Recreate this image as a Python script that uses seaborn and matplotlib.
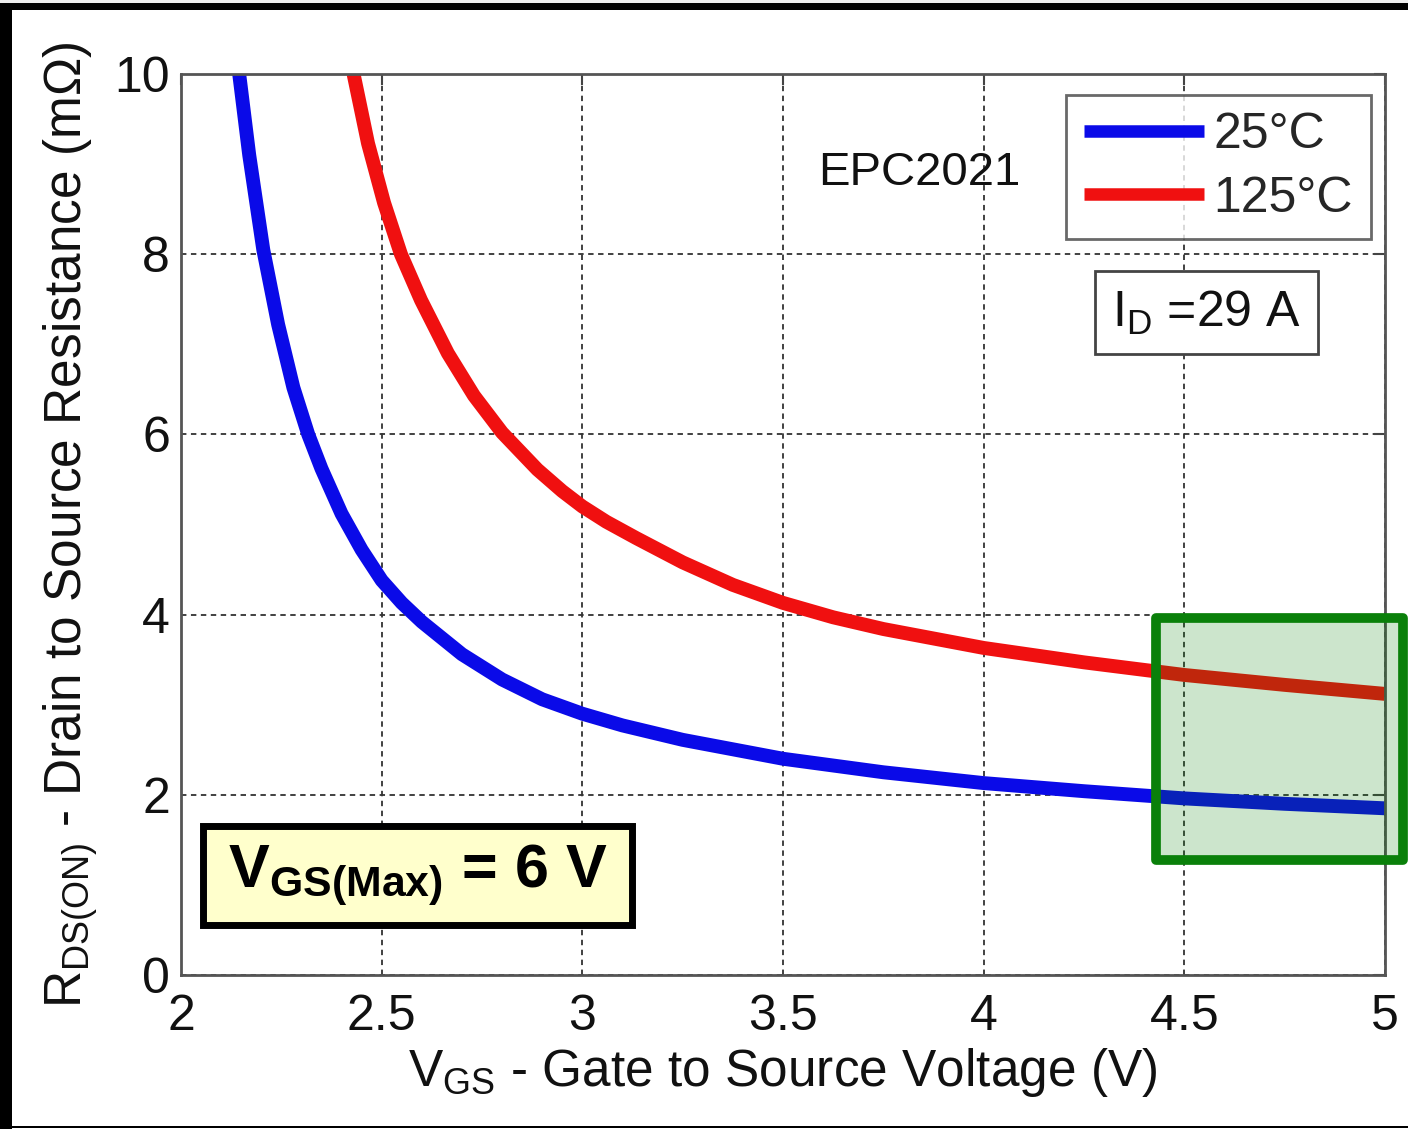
import matplotlib
matplotlib.use("Agg")
import matplotlib.pyplot as plt
import seaborn as sns
import pandas as pd
from matplotlib.patches import Rectangle

# ---- data ----
vgs_25 = [2.145, 2.17, 2.205, 2.242, 2.28, 2.317, 2.35, 2.40, 2.45, 2.50, 2.55, 2.60,
          2.70, 2.80, 2.90, 3.0, 3.1, 3.25, 3.5, 3.75, 4.0, 4.25, 4.5, 4.75, 5.0]
rds_25 = [10.0, 9.1, 8.05, 7.22, 6.52, 6.0, 5.62, 5.12, 4.72, 4.38, 4.13, 3.92,
          3.56, 3.28, 3.06, 2.90, 2.77, 2.61, 2.40, 2.25, 2.13, 2.04, 1.96, 1.90, 1.85]
vgs_125 = [2.43, 2.466, 2.506, 2.548, 2.598, 2.665, 2.73, 2.80, 2.888, 2.95, 3.0, 3.06,
           3.134, 3.25, 3.375, 3.5, 3.625, 3.75, 4.0, 4.25, 4.5, 4.75, 5.0]
rds_125 = [10.0, 9.23, 8.57, 8.0, 7.49, 6.9, 6.43, 6.02, 5.61, 5.37, 5.20, 5.03,
           4.85, 4.58, 4.33, 4.13, 3.97, 3.84, 3.63, 3.47, 3.33, 3.22, 3.12]
series_labels = ["25°C", "125°C"]
x_ticks = [2, 2.5, 3, 3.5, 4, 4.5, 5]
x_tick_labels = ["2", "2.5", "3", "3.5", "4", "4.5", "5"]
y_ticks = [0, 2, 4, 6, 8, 10]
y_tick_labels = ["0", "2", "4", "6", "8", "10"]

df = pd.concat([
    pd.DataFrame({"VGS": vgs_25, "RDS": rds_25, "T": series_labels[0]}),
    pd.DataFrame({"VGS": vgs_125, "RDS": rds_125, "T": series_labels[1]}),
], ignore_index=True)

sns.set_style("white")
FONT = ["Liberation Sans", "DejaVu Sans"]
plt.rcParams["font.family"] = FONT
plt.rcParams["mathtext.fontset"] = "custom"
plt.rcParams["mathtext.rm"] = "Liberation Sans"
plt.rcParams["mathtext.it"] = "Liberation Sans:italic"
plt.rcParams["mathtext.bf"] = "Liberation Sans:bold"

fig = plt.figure(figsize=(14.08, 11.29), dpi=100)
ax = fig.add_axes([181 / 1408, 1 - 975 / 1129, 1204 / 1408, 901 / 1129])

palette = {series_labels[0]: "#0a0ae8", series_labels[1]: "#f01010"}
sns.lineplot(data=df, x="VGS", y="RDS", hue="T", palette=palette, sort=False,
             linewidth=10, ax=ax, legend=True, solid_capstyle="butt",
             solid_joinstyle="round")

ax.set_xlim(2, 5)
ax.set_ylim(0, 10)
ax.set_xticks(x_ticks)
ax.set_xticklabels(x_tick_labels)
ax.set_yticks(y_ticks)
ax.set_yticklabels(y_tick_labels)
ax.tick_params(axis="both", labelsize=36, direction="in", length=8, width=1.5,
               colors="#444444", labelcolor="#111111", top=True, right=True)
ax.tick_params(axis="x", pad=14)
ax.tick_params(axis="y", pad=8)
ax.grid(True, color="#333333", linestyle=(0, (3, 2.5)), linewidth=1.3)
for s in ax.spines.values():
    s.set_color("#555555")
    s.set_linewidth(2)

ax.set_xlabel(r"$\mathregular{V_{GS}}$ - Gate to Source Voltage (V)", fontsize=37,
              color="#111111", labelpad=4)
ax.set_ylabel(r"$\mathregular{R_{DS(ON)}}$ - Drain to Source Resistance (mΩ)", fontsize=37,
              color="#111111", labelpad=10)

leg = ax.legend(loc="upper right", bbox_to_anchor=(0.988, 0.977), fontsize=36,
                frameon=True, fancybox=False, edgecolor="#444444",
                handlelength=2.4, handletextpad=0.2, labelspacing=0.35,
                borderpad=0.35, borderaxespad=0)
leg.get_frame().set_linewidth(2)
for line in leg.get_lines():
    line.set_linewidth(9)

ax.text(3.84, 8.9, "EPC2021", fontsize=34, color="#111111", ha="center", va="center")

ax.text(4.32, 7.35, r"$\mathregular{I_D}$ =29 A", fontsize=36, color="#111111",
        ha="left", va="center",
        bbox=dict(boxstyle="square,pad=0.35", facecolor="white", edgecolor="#444444",
                  linewidth=2))

# V_GS(max) annotation box
ax.add_patch(Rectangle((2.055, 0.555), 1.069, 1.1, facecolor="#ffffcc",
                       edgecolor="black", linewidth=5, zorder=5, clip_on=False))
ax.text(2.59, 1.105, r"$\mathbf{V_{GS(Max)}}$ = 6 V", fontsize=44, fontweight="bold",
        color="black", ha="center", va="center", zorder=6)

# green highlight region
ax.add_patch(Rectangle((4.43, 1.276), 0.615, 2.69, facecolor="#008000", alpha=0.2,
                       edgecolor="none", zorder=7, clip_on=False))
ax.add_patch(Rectangle((4.43, 1.276), 0.615, 2.69, facecolor="none",
                       edgecolor="#0a800a", linewidth=7, joinstyle="round",
                       zorder=8, clip_on=False))

# outer black frame
fig.patches.append(Rectangle((0, 0), 12 / 1408, 1, transform=fig.transFigure,
                             facecolor="black", edgecolor="none", zorder=0))
fig.patches.append(Rectangle((0, 1 - 10 / 1129), 1, 7 / 1129, transform=fig.transFigure,
                             facecolor="black", edgecolor="none", zorder=0))
fig.patches.append(Rectangle((0, 1 - 3 / 1129), 1, 3 / 1129, transform=fig.transFigure,
                             facecolor="#eeeeee", edgecolor="none", zorder=0))
fig.patches.append(Rectangle((0, 1 / 1129), 1, 2 / 1129, transform=fig.transFigure,
                             facecolor="black", edgecolor="none", zorder=0))

fig.savefig("out.png", dpi=100)
